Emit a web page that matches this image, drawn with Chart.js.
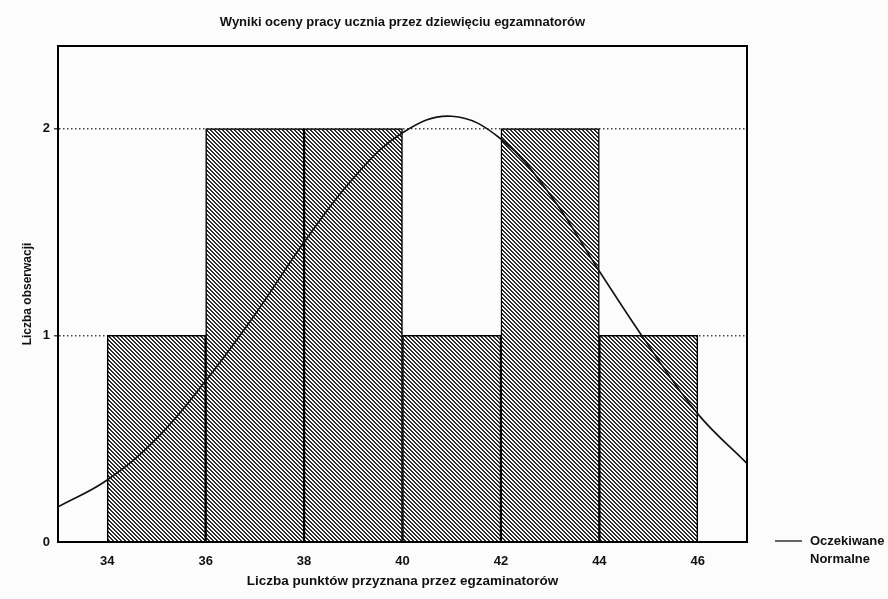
<!DOCTYPE html>
<html>
<head>
<meta charset="utf-8">
<script src="https://cdn.jsdelivr.net/npm/chart.js@4.4.1/dist/chart.umd.min.js"></script>
<style>
  html, body { margin: 0; padding: 0; background: #fcfcfc; }
  canvas { display: block; }
</style>
</head>
<body>
<canvas id="histChart" width="888" height="599"></canvas>
<script>
// histogram bins (centres) and counts
const binCenters = [35, 37, 39, 41, 43, 45];
const counts = [1, 2, 2, 1, 2, 1];

// expected normal curve
const normX = [33, 34, 35, 36, 37, 38, 39, 40, 41, 42, 43, 44, 45, 46, 47];
const normY = [0.17, 0.30, 0.50, 0.78, 1.10, 1.45, 1.76, 1.98, 2.06, 1.95, 1.68, 1.31, 0.95, 0.62, 0.38];

const xTicks = [34, 36, 38, 40, 42, 44, 46];
const yTicks = [0, 1, 2];

const chartTitle = "Wyniki oceny pracy ucznia przez dziewięciu egzamnatorów";
const xTitle = "Liczba punktów przyznana przez egzaminatorów";
const yTitle = "Liczba obserwacji";
const legendLines = ["Oczekiwane", "Normalne"];

const FONT = "'Liberation Sans Narrow', 'Liberation Sans', Arial, sans-serif";

// hatch pattern for the bars
function makeHatch() {
    const c = document.createElement("canvas");
    c.width = 4; c.height = 4;
    const g = c.getContext("2d");
    g.fillStyle = "#ffffff";
    g.fillRect(0, 0, 4, 4);
    g.fillStyle = "#2a2a2a";
    for (let i = 0; i < 4; i++) {
        g.fillRect(i, i, 1, 1);
        g.fillRect((i + 1) % 4, i, 1, 1);
    }
    return g.createPattern(c, "repeat");
}

const decor = {
    id: "decor",
    afterDraw(chart) {
        const ctx = chart.ctx;
        const a = chart.chartArea;
        ctx.save();
        // frame
        ctx.strokeStyle = "#000";
        ctx.lineWidth = 2;
        ctx.strokeRect(a.left, a.top, a.right - a.left, a.bottom - a.top);

        // title
        ctx.fillStyle = "#111";
        ctx.font = "bold 13px " + FONT;
        ctx.textAlign = "center";
        ctx.textBaseline = "middle";
        ctx.fillText(chartTitle, (a.left + a.right) / 2, 22);

        // legend
        ctx.strokeStyle = "#333";
        ctx.lineWidth = 1.5;
        ctx.beginPath();
        ctx.moveTo(775, 541);
        ctx.lineTo(802, 541);
        ctx.stroke();
        ctx.textAlign = "left";
        ctx.font = "bold 13px " + FONT;
        ctx.fillText(legendLines[0], 810, 541);
        ctx.fillText(legendLines[1], 810, 559);
        ctx.restore();
    }
};

const ctx = document.getElementById("histChart").getContext("2d");

new Chart(ctx, {
    data: {
        datasets: [{
            type: "line",
            label: legendLines.join(" "),
            data: normX.map((x, i) => ({ x: x, y: normY[i] })),
            borderColor: "#111",
            borderWidth: 1.6,
            pointRadius: 0,
            tension: 0.4,
            fill: false,
            order: 0
        }, {
            type: "bar",
            label: "Liczba obserwacji",
            data: binCenters.map((x, i) => ({ x: x, y: counts[i] })),
            backgroundColor: makeHatch(),
            borderColor: "#000",
            borderWidth: 1.5,
            barPercentage: 1,
            categoryPercentage: 1,
            order: 1
        }]
    },
    options: {
        responsive: false,
        animation: false,
        layout: { padding: { top: 46, right: 141, left: 0, bottom: 0 } },
        plugins: {
            legend: { display: false },
            tooltip: { enabled: false }
        },
        scales: {
            x: {
                type: "linear",
                min: 33,
                max: 47,
                offset: false,
                afterBuildTicks: (s) => { s.ticks = xTicks.map(v => ({ value: v })); },
                afterFit: (s) => { s.height = 57; },
                ticks: {
                    color: "#111",
                    font: { family: FONT, size: 13, weight: "bold" },
                    padding: 4,
                    maxRotation: 0
                },
                grid: { display: false, offset: false },
                border: { color: "#000", width: 2 },
                title: {
                    display: true,
                    text: xTitle,
                    color: "#111",
                    font: { family: FONT, size: 13.5, weight: "bold" },
                    padding: { top: 0, bottom: 10 }
                }
            },
            y: {
                min: 0,
                max: 2.4,
                afterBuildTicks: (s) => { s.ticks = yTicks.map(v => ({ value: v })); },
                afterFit: (s) => { s.width = 58; },
                ticks: {
                    color: "#111",
                    font: { family: FONT, size: 13, weight: "bold" },
                    padding: 4
                },
                grid: {
                    color: (c) => c.tick && c.tick.value === 0 ? "rgba(0,0,0,0)" : "#444",
                    lineWidth: 1.5,
                    tickLength: 4
                },
                border: { color: "#000", width: 2, dash: [1.5, 2.5] },
                title: {
                    display: true,
                    text: yTitle,
                    color: "#111",
                    font: { family: FONT, size: 12, weight: "bold" },
                    padding: { top: 20, bottom: 0 }
                }
            }
        }
    },
    plugins: [decor]
});
</script>
</body>
</html>
